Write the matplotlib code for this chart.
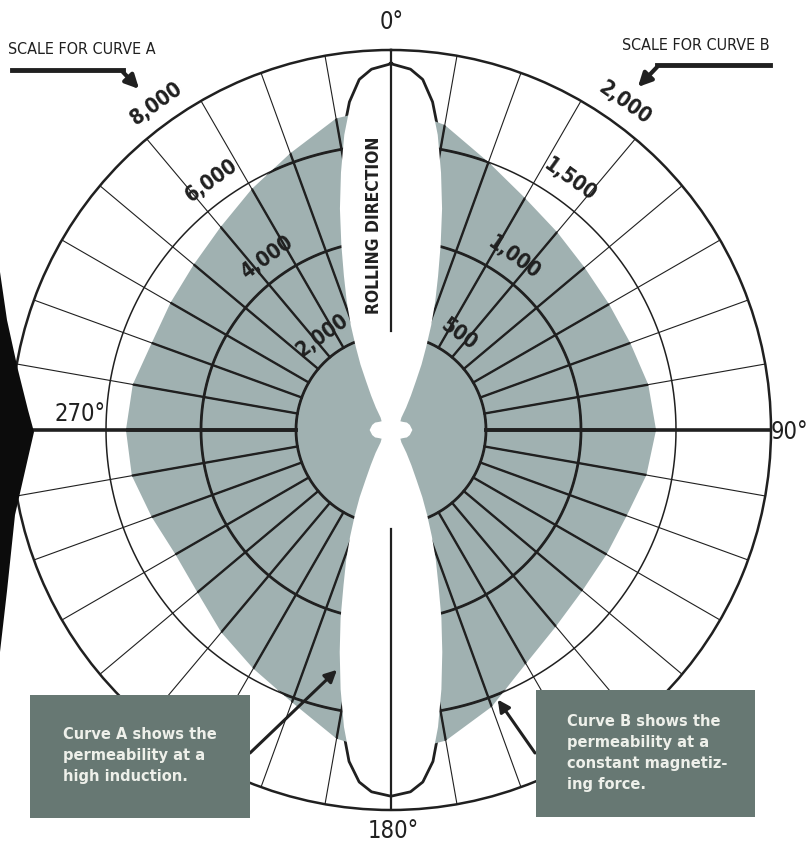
import numpy as np
import matplotlib
matplotlib.use('Agg')
import matplotlib.pyplot as plt
from matplotlib.patches import Rectangle, Polygon, FancyArrowPatch
from matplotlib.lines import Line2D

W, H = 809, 846

# Curve A: permeability at a high induction (scale 0 - 8,000), bearing in degrees
curve_a_deg = [0, 3, 5, 7, 9, 11, 13, 15, 17, 19, 21, 23, 25, 27, 30, 34, 40, 47, 55, 65, 75, 90,
               105, 115, 125, 133, 140, 146, 150, 153, 155, 157, 159, 161, 163, 165, 167, 169, 171, 173, 175, 177,
               180, 183, 185, 187, 189, 191, 193, 195, 197, 199, 201, 203, 205, 207, 210, 214, 220, 227, 235, 245, 255, 270,
               285, 295, 305, 313, 320, 326, 330, 333, 335, 337, 339, 341, 343, 345, 347, 349, 351, 353, 355, 357]
curve_a_perm = [7680, 7580, 7390, 6950, 6290, 5520, 4780, 4040, 3390, 2860, 2360, 1890, 1520, 1160, 840, 570, 340, 270, 300, 370, 410, 450,
                410, 370, 300, 270, 340, 580, 860, 1190, 1560, 1950, 2400, 2900, 3420, 4100, 4800, 5560, 6330, 7020, 7420, 7600,
                7680, 7600, 7420, 7020, 6330, 5560, 4800, 4100, 3420, 2900, 2400, 1950, 1560, 1180, 850, 580, 340, 270, 300, 370, 410, 450,
                410, 370, 300, 270, 340, 570, 840, 1160, 1520, 1890, 2360, 2860, 3390, 4040, 4780, 5520, 6290, 6950, 7390, 7580]

# Curve B: permeability at a constant magnetizing force (scale 0 - 2,000)
curve_b_deg = list(range(0, 360, 10))
curve_b_perm = [1710, 1630, 1500, 1410, 1360, 1330, 1325, 1340, 1375,
                1395, 1365, 1320, 1310, 1315, 1350, 1420, 1550, 1660,
                1710, 1650, 1525, 1450, 1390, 1330, 1310, 1340, 1385,
                1395, 1380, 1340, 1340, 1355, 1395, 1465, 1550, 1665]

scale_a = [2000, 4000, 6000, 8000]
scale_a_labels = ['2,000', '4,000', '6,000', '8,000']
scale_b = [500, 1000, 1500, 2000]
scale_b_labels = ['500', '1,000', '1,500', '2,000']

ink = '#202020'
shade = '#a0b1b1'
cond = dict(family='DejaVu Sans', fontstretch='condensed')

def fx(x):
    return x / W

def fy(y):
    return 1 - y / H

fig = plt.figure(figsize=(W / 100, H / 100), dpi=100)
fig.patch.set_facecolor('white')

ax = fig.add_axes([11 / W, 36 / H, 760 / W, 760 / H], projection='polar')
ax.set_theta_zero_location('N')
ax.set_theta_direction(-1)
ax.set_ylim(0, 1)
ax.set_xticks([])
ax.set_yticks([])
ax.grid(False)
ax.spines['polar'].set_linewidth(1.8)
ax.spines['polar'].set_color(ink)

ta = np.deg2rad(curve_a_deg)
ra = np.array(curve_a_perm) / scale_a[-1]
tb = np.deg2rad(curve_b_deg)
rb = np.array(curve_b_perm) / scale_b[-1]

# outline of curve A sits under the shading, so it only shows outside curve B
ax.plot(np.append(ta, ta[0]), np.append(ra, ra[0]), color=ink, lw=4, zorder=1)
shade_patch = ax.fill(tb, rb, color=shade, lw=0, zorder=2)[0]

# grid
rings = np.array(scale_a) / scale_a[-1]
tc = np.linspace(0, 2 * np.pi, 721)
for r in rings[:-1]:
    ax.plot(tc, np.full_like(tc, r), color=ink, lw=1.1, zorder=3)
    ln, = ax.plot(tc, np.full_like(tc, r), color=ink, lw=2.0, zorder=3)
    ln.set_clip_path(shade_patch)

for d in range(10, 360, 10):
    if d == 180:
        continue
    th = np.deg2rad(d)
    lw = 2.6 if d in (90, 270) else 0.8
    ax.plot([th, th], [rings[0], 1.0], color=ink, lw=lw, zorder=3)
    ln, = ax.plot([th, th], [rings[0], 1.0], color=ink, lw=max(lw, 1.7), zorder=3)
    ln.set_clip_path(shade_patch)

# curve A lobe
ax.fill(ta, ra, color='white', lw=0, zorder=4)
ax.plot([0, 0], [0.26, 1.0], color=ink, lw=1.6, zorder=5)
ax.plot([np.pi, np.pi], [0.26, 1.0], color=ink, lw=1.6, zorder=5)
ax.text(np.deg2rad(355.2), 0.54, 'ROLLING DIRECTION', rotation=90, ha='center', va='center',
        fontsize=12.5, fontweight='bold', color=ink, zorder=6, **cond)

# ring labels for both scales
for r, lab in zip(rings, scale_a_labels):
    ax.text(np.deg2rad(324.3), r + 0.058, lab, rotation=35.7, rotation_mode='anchor',
            ha='center', va='center', fontsize=15, fontweight='bold', color=ink, zorder=6, **cond)
for r, lab in zip(np.array(scale_b) / scale_b[-1], scale_b_labels):
    ax.text(np.deg2rad(35.6), r + 0.058, lab, rotation=-35.6, rotation_mode='anchor',
            ha='center', va='center', fontsize=15, fontweight='bold', color=ink, zorder=6, **cond)

# degree labels
for s, x, y, ha in [('0°', 392, 22, 'center'), ('90°', 808, 432, 'right'),
                    ('180°', 393, 831, 'center'), ('270°', 80, 414, 'center')]:
    fig.text(fx(x), fy(y), s, ha=ha, va='center', fontsize=17, color=ink, **cond)

# scale captions with pointer arrows
fig.text(fx(8), fy(49), 'SCALE FOR CURVE A', ha='left', va='center', fontsize=11.5, color=ink, **cond)
fig.text(fx(770), fy(45), 'SCALE FOR CURVE B', ha='right', va='center', fontsize=11.5, color=ink, **cond)
fig.add_artist(Line2D([fx(12), fx(123)], [fy(70), fy(70)], transform=fig.transFigure, color=ink, lw=3.5))
fig.add_artist(FancyArrowPatch((fx(121), fy(70)), (fx(141), fy(91)), transform=fig.transFigure,
                               arrowstyle='-|>', mutation_scale=20, lw=3, color=ink))
fig.add_artist(Line2D([fx(770), fx(657)], [fy(65), fy(65)], transform=fig.transFigure, color=ink, lw=3.5))
fig.add_artist(FancyArrowPatch((fx(659), fy(65)), (fx(636), fy(89)), transform=fig.transFigure,
                               arrowstyle='-|>', mutation_scale=20, lw=3, color=ink))

# dark binding edge on the left of the scan
edge = [(0, 272), (7, 320), (18, 370), (28, 410), (34, 432), (28, 458), (15, 515), (7, 591), (0, 652)]
fig.add_artist(Polygon([(fx(x), fy(y)) for x, y in edge], closed=True, transform=fig.transFigure,
                       facecolor='#0c0c0c', edgecolor='none'))

# call-out boxes
box_col = '#677873'
txt_col = '#eef0ea'
fig.add_artist(Rectangle((fx(30), fy(818)), 220 / W, 123 / H, transform=fig.transFigure,
                         facecolor=box_col, edgecolor='none', zorder=5))
fig.text(fx(63), fy(755), 'Curve A shows the\npermeability at a\nhigh induction.', ha='left', va='center',
         fontsize=10.5, fontweight='bold', color=txt_col, linespacing=1.5, zorder=6)
fig.add_artist(Rectangle((fx(536), fy(817)), 219 / W, 127 / H, transform=fig.transFigure,
                         facecolor=box_col, edgecolor='none', zorder=5))
fig.text(fx(567), fy(753), 'Curve B shows the\npermeability at a\nconstant magnetiz-\ning force.', ha='left',
         va='center', fontsize=10.5, fontweight='bold', color=txt_col, linespacing=1.5, zorder=6)

ax.annotate('', xy=(np.deg2rad(192.7), 0.647), xytext=(fx(250), fy(753)), textcoords='figure fraction',
            arrowprops=dict(arrowstyle='-|>', lw=2.2, color=ink, mutation_scale=18, shrinkA=0, shrinkB=0),
            zorder=7)
ax.annotate('', xy=(np.deg2rad(158.4), 0.763), xytext=(fx(535), fy(753)), textcoords='figure fraction',
            arrowprops=dict(arrowstyle='-|>', lw=2.2, color=ink, mutation_scale=18, shrinkA=0, shrinkB=0),
            zorder=7)

fig.savefig('out.png', dpi=100)
